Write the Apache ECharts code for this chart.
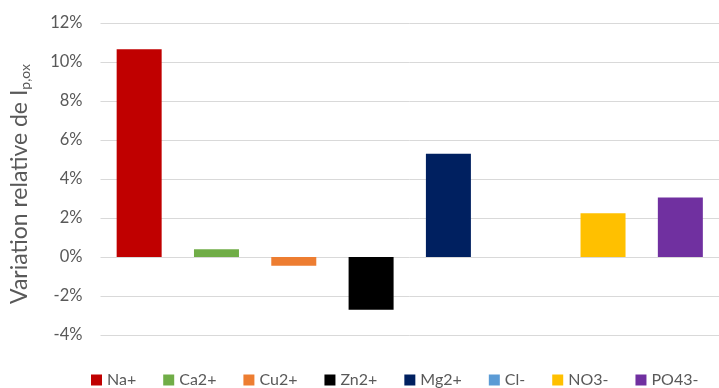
<!DOCTYPE html>
<html>
<head>
<meta charset="utf-8">
<style>
  html, body { margin: 0; padding: 0; background: #fff; }
  #chart { width: 719px; height: 388px; }
</style>
<script src="https://cdn.jsdelivr.net/npm/echarts@6/dist/echarts.min.js"></script>
</head>
<body>
<div id="chart"></div>
<script>
// Ions tested and the relative variation of the oxidation peak current (%)
const ions = ['Na+', 'Ca2+', 'Cu2+', 'Zn2+', 'Mg2+', 'Cl-', 'NO3-', 'PO43-'];
const variation = [10.65, 0.4, -0.45, -2.7, 5.3, 0, 2.25, 3.05];
const ionColors = ['#C00000', '#70AD47', '#ED7D31', '#000000', '#002060', '#5B9BD5', '#FFC000', '#7030A0'];

// Y axis range (%)
const yMin = -4;
const yMax = 12;
const yStep = 2;

const FONT = 'Lato, "Open Sans", sans-serif';
const TEXT_GREY = '#595959';

// One series per ion so each appears in the legend; stacking keeps every bar centred on its slot
const series = ions.map((name, i) => ({
  name: name,
  type: 'bar',
  stack: 'ions',
  barWidth: 45,
  itemStyle: { color: ionColors[i] },
  data: ions.map((_, j) => (j === i ? variation[i] : '-'))
}));

const chart = echarts.init(document.getElementById('chart'), null, { renderer: 'canvas' });
chart.setOption({
  animation: false,
  backgroundColor: '#ffffff',
  grid: { left: 97, top: 23, width: 626, bottom: 53, containLabel: false },
  legend: {
    data: ions,
    left: 86,
    top: 367,
    icon: 'rect',
    itemWidth: 11,
    itemHeight: 11,
    itemGap: 27,
    textStyle: { fontFamily: FONT, fontSize: 16, color: TEXT_GREY }
  },
  xAxis: {
    type: 'category',
    data: ions,
    axisLine: { show: false },
    axisTick: { show: false },
    axisLabel: { show: false },
    splitLine: { show: false }
  },
  yAxis: {
    type: 'value',
    min: yMin,
    max: yMax,
    interval: yStep,
    axisLine: { show: false },
    axisTick: { show: false },
    axisLabel: {
      formatter: '{value}%',
      fontFamily: FONT,
      fontSize: 16.5,
      color: TEXT_GREY,
      margin: 18
    },
    splitLine: { lineStyle: { color: '#d9d9d9', width: 1 } },
    name: 'Variation relative de I{sub|p,ox}',
    nameLocation: 'middle',
    nameRotate: 90,
    nameGap: 68,
    nameTextStyle: {
      fontFamily: FONT,
      fontSize: 23,
      color: TEXT_GREY,
      padding: [0, 10, 0, 0],
      rich: {
        sub: {
          fontFamily: FONT,
          fontSize: 14,
          color: TEXT_GREY,
          verticalAlign: 'bottom',
          padding: [12, 0, 0, 0]
        }
      }
    }
  },
  series: series
});
</script>
</body>
</html>
